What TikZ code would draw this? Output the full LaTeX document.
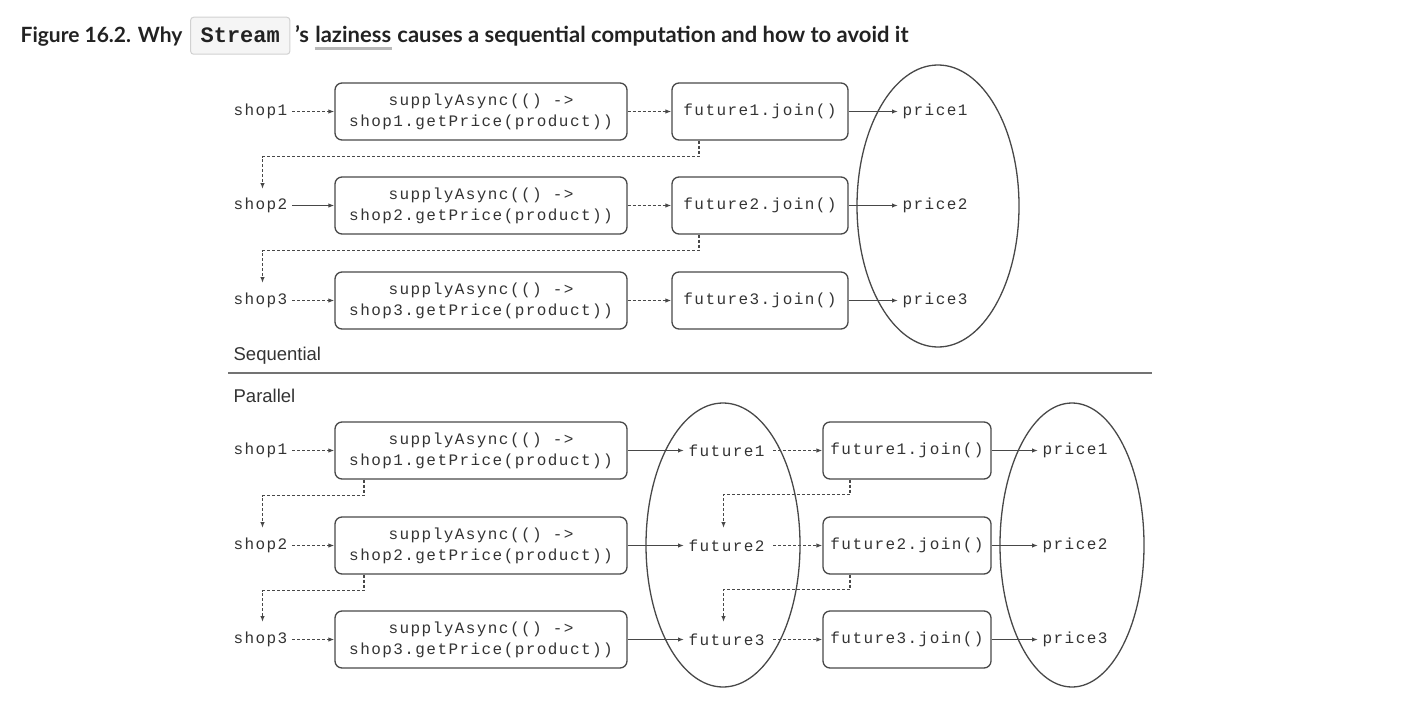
\documentclass[tikz,border=0pt]{standalone}
\usepackage{fontspec}
\setmainfont{Lato}
\newfontfamily\codefont{Liberation Mono}[LetterSpace=9]
\newfontfamily\titlecode{Liberation Mono}
\newfontfamily\sansfont{Liberation Sans}
\usetikzlibrary{arrows.meta,calc,shapes.geometric}
\definecolor{ln}{HTML}{484848}
\definecolor{txt}{HTML}{333333}
\definecolor{ttl}{HTML}{222222}
\begin{document}
\begin{tikzpicture}[x=1pt,y=-1pt,color=ln,line width=1.3pt,
  sabox/.style={draw=ln,line width=1.3pt,rounded corners=7pt,minimum width=292pt,minimum height=57pt,inner sep=0pt,align=center,text=txt,font=\codefont\fontsize{16}{21}\selectfont},
  jbox/.style={sabox,minimum width=176pt},
  jboxb/.style={sabox,minimum width=168pt},
  lbl/.style={inner sep=4pt,text=txt,font=\codefont\fontsize{16}{18}\selectfont},
  ell/.style={draw=ln,line width=1.3pt,ellipse,inner sep=0pt},
  arr/.style={-{Latex[length=6pt,width=4.5pt]}},
  dsh/.style={dash pattern=on 3pt off 2pt},
  sect/.style={inner sep=0pt,text=txt,font=\sansfont\fontsize{18.5}{20}\selectfont},
  ttext/.style={inner sep=0pt,text=ttl,font=\bfseries\fontsize{22}{24}\selectfont},
]
\useasboundingbox (0,0) rectangle (1412,706);

% ---------- title ----------
\node[ttext,anchor=base west,font=\bfseries\fontsize{21}{24}\selectfont] (t1) at (20,43) {Figure 16.2. Why};
\node[anchor=base west,draw=black!18,fill=black!4,rounded corners=3pt,line width=1pt,
      inner xsep=10pt,minimum height=37pt,text=ttl,font=\titlecode\bfseries\fontsize{22}{24}\selectfont]
      (tc) at ([xshift=7pt]t1.base east) {Stream};
\node[ttext,anchor=base west] (t2) at ([xshift=4pt]tc.base east) {’s};
\node[ttext,anchor=base west] (t3) at ([xshift=5pt]t2.base east) {laziness};
\node[ttext,anchor=base west] (t4) at ([xshift=5pt]t3.base east) {causes a sequential computation and how to avoid it};
\draw[draw=black!28,line width=3pt] ([yshift=-6pt]t3.base west) -- ([yshift=-6pt]t3.base east);

% ---------- sequential ----------
\node[lbl,anchor=east] (s1) at (292,111.5) {shop1};
\node[lbl,anchor=east] (s2) at (292,205.5) {shop2};
\node[lbl,anchor=east] (s3) at (292,300.5) {shop3};
\node[sabox] (a1) at (481,111.5) {supplyAsync(() ->\\shop1.getPrice(product))};
\node[sabox] (a2) at (481,205.5) {supplyAsync(() ->\\shop2.getPrice(product))};
\node[sabox] (a3) at (481,300.5) {supplyAsync(() ->\\shop3.getPrice(product))};
\node[jbox] (j1) at (760,111.5) {future1.join()};
\node[jbox] (j2) at (760,205.5) {future2.join()};
\node[jbox] (j3) at (760,300.5) {future3.join()};
\node[ell,minimum width=162pt,minimum height=282pt] (E1) at (938,206) {};
\node[lbl,anchor=west] (p1) at (898,111.5) {price1};
\node[lbl,anchor=west] (p2) at (898,205.5) {price2};
\node[lbl,anchor=west] (p3) at (898,300.5) {price3};

\draw[dsh,arr] (s1) -- (a1);
\draw[arr] (s2) -- (a2);
\draw[dsh,arr] (s3) -- (a3);
\draw[dsh,arr] (a1) -- (j1);
\draw[dsh,arr] (a2) -- (j2);
\draw[dsh,arr] (a3) -- (j3);
\draw[arr] (j1) -- (p1);
\draw[arr] (j2) -- (p2);
\draw[arr] (j3) -- (p3);

\coordinate (r1) at (262.5,156.5);
\coordinate (r1e) at (262.5,189);
\coordinate (r2) at (262.5,250.5);
\coordinate (r2e) at (262.5,283);
\draw[dsh,arr] ($(j1.south west)+(27.5,0)$) |- (r1) -- (r1e);
\draw[dsh,arr] ($(j2.south west)+(27.5,0)$) |- (r2) -- (r2e);

% ---------- separator ----------
\node[sect,anchor=base west] (seq) at (233,360) {Sequential};
\coordinate (hl) at (228,373);
\coordinate (hr) at (1152,373);
\draw[draw=black!55,line width=2pt] (hl) -- (hr);
\node[sect,anchor=base west] (par) at (233,402) {Parallel};

% ---------- parallel ----------
\node[lbl,anchor=east] (b1) at (292,450.5) {shop1};
\node[lbl,anchor=east] (b2) at (292,545.5) {shop2};
\node[lbl,anchor=east] (b3) at (292,639.5) {shop3};
\node[sabox] (c1) at (481,450.5) {supplyAsync(() ->\\shop1.getPrice(product))};
\node[sabox] (c2) at (481,545.5) {supplyAsync(() ->\\shop2.getPrice(product))};
\node[sabox] (c3) at (481,639.5) {supplyAsync(() ->\\shop3.getPrice(product))};
\node[ell,minimum width=154pt,minimum height=284pt] (FE) at (723,545) {};
\node[lbl,anchor=west] (f1) at (684,450.5) {future1};
\node[lbl,anchor=west] (f2) at (684,545.5) {future2};
\node[lbl,anchor=west] (f3) at (684,639.5) {future3};
\node[jboxb] (k1) at (907,450.5) {future1.join()};
\node[jboxb] (k2) at (907,545.5) {future2.join()};
\node[jboxb] (k3) at (907,639.5) {future3.join()};
\node[ell,minimum width=144pt,minimum height=284pt] (PE) at (1072,545) {};
\node[lbl,anchor=west] (q1) at (1038,450.5) {price1};
\node[lbl,anchor=west] (q2) at (1038,545.5) {price2};
\node[lbl,anchor=west] (q3) at (1038,639.5) {price3};

\draw[dsh,arr] (b1) -- (c1);
\draw[dsh,arr] (b2) -- (c2);
\draw[dsh,arr] (b3) -- (c3);
\draw[arr] (c1) -- (f1);
\draw[arr] (c2) -- (f2);
\draw[arr] (c3) -- (f3);
\draw[dsh,arr] ([xshift=4pt]f1.east) -- (k1);
\draw[dsh,arr] ([xshift=4pt]f2.east) -- (k2);
\draw[dsh,arr] ([xshift=4pt]f3.east) -- (k3);
\draw[arr] (k1) -- (q1);
\draw[arr] (k2) -- (q2);
\draw[arr] (k3) -- (q3);

\coordinate (u1) at (262.5,495.5);
\coordinate (u1e) at (262.5,528);
\coordinate (u2) at (262.5,590.5);
\coordinate (u2e) at (262.5,622);
\draw[dsh,arr] ($(c1.south west)+(29.5,0)$) |- (u1) -- (u1e);
\draw[dsh,arr] ($(c2.south west)+(29.5,0)$) |- (u2) -- (u2e);
\coordinate (v1) at (723.5,494.5);
\coordinate (v1e) at (723.5,528);
\coordinate (v2) at (723.5,589.5);
\coordinate (v2e) at (723.5,622);
\draw[dsh,arr] ($(k1.south west)+(27.5,0)$) |- (v1) -- (v1e);
\draw[dsh,arr] ($(k2.south west)+(27.5,0)$) |- (v2) -- (v2e);
\end{tikzpicture}
\end{document}
